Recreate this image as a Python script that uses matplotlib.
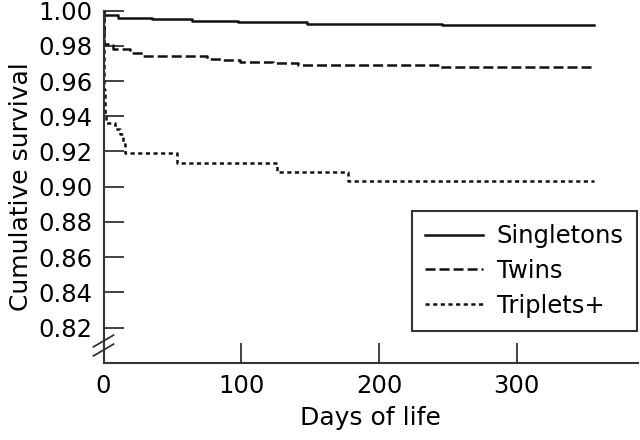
import matplotlib
matplotlib.use("Agg")
import matplotlib.pyplot as plt
from matplotlib.lines import Line2D

# ---- data ----
single_days = [0, 0.5, 10.5, 35, 64, 97.6, 147.7, 245.6, 356]
single_surv = [1.0, 0.9978, 0.9957, 0.9951, 0.9943, 0.9936, 0.9924, 0.9918, 0.9918]

twin_days = [0, 0.3, 0.7, 6.9, 19.2, 28.7, 75, 86.7, 99, 123, 141, 244, 356]
twin_surv = [1.0, 0.99, 0.981, 0.978, 0.9757, 0.9743, 0.9728, 0.9719, 0.9709, 0.970, 0.9694, 0.968, 0.968]

trip_days = [0, 0.3, 0.7, 1.2, 2.0, 8.3, 12, 14.2, 15.6, 53.1, 125.7, 177.6, 356]
trip_surv = [1.0, 0.97, 0.955, 0.94, 0.936, 0.9329, 0.930, 0.9243, 0.919, 0.9134, 0.9085, 0.9034, 0.9034]

labels = ["Singletons", "Twins", "Triplets+"]
yticks = [0.82, 0.84, 0.86, 0.88, 0.90, 0.92, 0.94, 0.96, 0.98, 1.00]
xticks = [0, 100, 200, 300]

plt.rcParams['font.family'] = ['DejaVu Sans']
plt.rcParams['lines.scale_dashes'] = False

fig = plt.figure(figsize=(6.4, 4.4), dpi=100)
ax = fig.add_axes([103.5/640, 1-362.7/440, (638-103.5)/640, (362.7-10.7)/440])

col = '#111111'
lw = 1.8
ax.plot(single_days, single_surv, drawstyle='steps-post', color=col, lw=lw,
        linestyle='-', label=labels[0])
ax.plot(twin_days, twin_surv, drawstyle='steps-post', color=col, lw=lw,
        linestyle=(0, (7.2, 2.9)), label=labels[1])
ax.plot(trip_days, trip_surv, drawstyle='steps-post', color=col, lw=lw,
        linestyle=(0, (3.0, 2.5)), label=labels[2])

ax.set_xlim(0, 388)
ax.set_ylim(0.80, 1.00)
ax.set_yticks(yticks)
ax.set_yticklabels([f"{v:.2f}" for v in yticks])
ax.set_xticks(xticks)
ax.set_xticklabels([str(v) for v in xticks])

for s in ['top', 'right']:
    ax.spines[s].set_visible(False)
for s in ['left', 'bottom']:
    ax.spines[s].set_linewidth(1.5)
    ax.spines[s].set_color('#333333')

ax.tick_params(axis='both', direction='in', length=14.4, width=1.3,
               color='#333333', labelsize=17.5, pad=8.0)

ax.set_xlabel("Days of life", fontsize=18, labelpad=6)
ax.set_ylabel("Cumulative survival", fontsize=18, labelpad=4)

# axis break marks
for yc in (0.0617, 0.036):
    ax.add_line(Line2D([-0.0187, 0.0187], [yc - 0.0166, yc + 0.0166],
                       transform=ax.transAxes, color='#333333', lw=1.3,
                       clip_on=False))

leg = ax.legend(loc='lower right', bbox_to_anchor=(637/640, 1-331/440),
                bbox_transform=fig.transFigure, fontsize=17.5, frameon=True,
                fancybox=False, borderaxespad=0, handlelength=2.4,
                handletextpad=0.55, labelspacing=0.44, borderpad=0.55)
leg.get_frame().set_edgecolor('#333333')
leg.get_frame().set_linewidth(1.5)
leg.get_frame().set_alpha(1)

fig.savefig("out.png", dpi=100)
